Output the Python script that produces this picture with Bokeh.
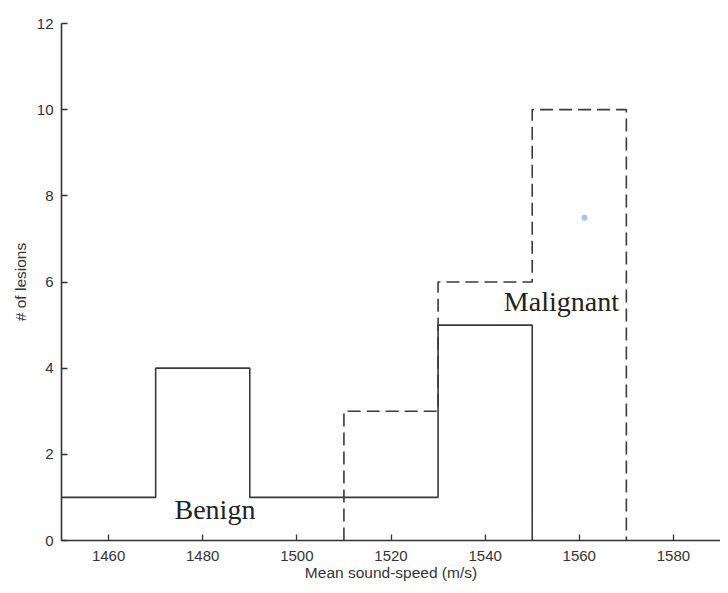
from bokeh.plotting import figure
from bokeh.models import Range1d, FixedTicker
from bokeh.core.properties import value
from bokeh.embed import file_html
from bokeh.resources import INLINE

# ---- data ----
benign_edges = [1450, 1470, 1490, 1510, 1530, 1550]
benign_counts = [1, 4, 1, 1, 5]
malignant_edges = [1510, 1530, 1550, 1570]
malignant_counts = [3, 6, 10]
x_ticks = [1460, 1480, 1500, 1520, 1540, 1560, 1580]
y_ticks = [0, 2, 4, 6, 8, 10, 12]
labels = ["Benign", "Malignant"]
label_x = [1482.6, 1556.2]
label_y = [0.72, 5.55]
dot_x = [1561.1]
dot_y = [7.49]

p = figure(width=720, height=584, output_backend="svg", toolbar_location=None,
           x_range=Range1d(1450, 1590), y_range=Range1d(0, 12),
           min_border_left=61, min_border_right=0, min_border_top=23, min_border_bottom=44)
p.outline_line_color = None
p.grid.visible = False
p.background_fill_color = "white"
p.border_fill_color = "white"

# step outlines (histogram)
bx = benign_edges
by = benign_counts + [0]
p.step(x=bx, y=by, mode="after", line_color="#3a3a3a", line_width=1.6)

mx = [malignant_edges[0]] + malignant_edges
my = [0] + malignant_counts + [0]
p.step(x=mx, y=my, mode="after", line_color="#3a3a3a", line_width=1.6, line_dash="13 6")

p.text(x=label_x, y=label_y, text=labels, text_font=value("Liberation Serif"),
       text_font_size="28px", text_align="center", text_baseline="alphabetic",
       text_color="#222222")

p.scatter(x=dot_x, y=dot_y, size=6, fill_color="#8db6e3", line_color=None, alpha=0.8)

for ax in (p.xaxis[0], p.yaxis[0]):
    ax.axis_line_color = "#333333"
    ax.axis_line_width = 1.6
    ax.major_tick_line_color = "#333333"
    ax.major_tick_line_width = 1.3
    ax.major_tick_in = 6
    ax.major_tick_out = 0
    ax.minor_tick_line_color = None
    ax.major_label_text_font = "Liberation Sans"
    ax.major_label_text_font_size = "15px"
    ax.major_label_text_color = "#333333"
    ax.axis_label_text_font = "Liberation Sans"
    ax.axis_label_text_font_style = "normal"
    ax.axis_label_text_color = "#333333"
    ax.axis_label_text_font_size = "15.5px"

p.xaxis.major_label_standoff = 10
p.yaxis.major_label_standoff = 8
p.xaxis.ticker = FixedTicker(ticks=x_ticks)
p.yaxis.ticker = FixedTicker(ticks=y_ticks)
p.xaxis.axis_label = "Mean sound-speed (m/s)"
p.xaxis.axis_label_standoff = 0
p.yaxis.axis_label = "# of lesions"
p.yaxis.axis_label_standoff = 5

open("out.html", "w").write(file_html(p, INLINE))
